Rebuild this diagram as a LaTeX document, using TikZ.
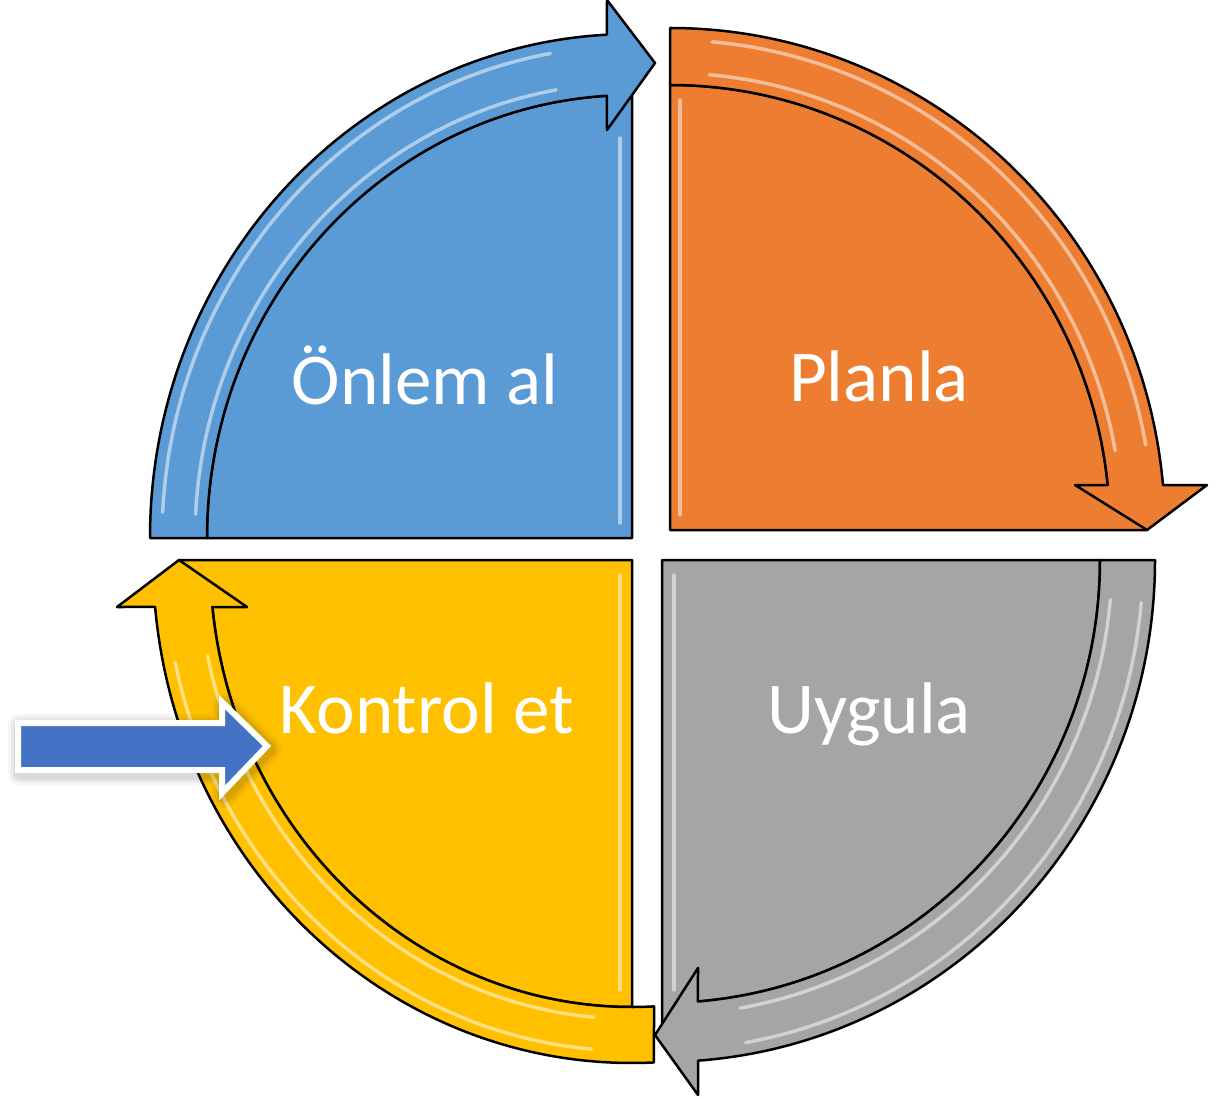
\documentclass[tikz,border=0pt]{standalone}
\usepackage{fontspec}
\setmainfont{Carlito}
\usepackage{tikz}
\definecolor{onlemblue}{HTML}{5B9BD5}
\definecolor{planorange}{HTML}{ED7D31}
\definecolor{uygulagray}{HTML}{A5A5A5}
\definecolor{kontrolyellow}{HTML}{FFC000}
\definecolor{inblue}{HTML}{4472C4}
\def\edge{0.25mm}
\tikzset{quad/.style={draw=black, line width=\edge, line join=round},
  glint/.style={white, opacity=.5, line width=0.35mm, line cap=round},
  lbl/.style={text=white, anchor=base, font=\fontsize{20.8}{25}\selectfont}}

\begin{document}
\begin{tikzpicture}[x=0.1mm, y=0.1mm]
      \useasboundingbox (0,0) rectangle (1220,1098);
      % Onlem al (top left)
      \begin{scope}[shift={(632,560)}]
        \filldraw[quad, fill=onlemblue] (0,0) -- (180:425 and 443)
          arc[start angle=180, end angle=90, x radius=425, y radius=443] -- cycle;
        \filldraw[quad, fill=onlemblue] (180:482 and 504)
          arc[start angle=180, end angle=93, x radius=482, y radius=504]
          -- (-25,538) -- (23,475) -- (-25,408) -- (93.4:425 and 443)
          arc[start angle=93.4, end angle=180, x radius=425, y radius=443] -- cycle;
        \draw[glint] (177:470 and 492) arc[start angle=177, end angle=100, x radius=470, y radius=492];
        \draw[glint] (177:437 and 455) arc[start angle=177, end angle=100, x radius=437, y radius=455];
        \draw[glint] (-12,15) -- (-12,400);
      \end{scope}
      % Planla (top right)
      \begin{scope}[shift={(670,568)}]
        \filldraw[quad, fill=planorange] (0,0) -- (0,445)
          arc[start angle=90, end angle=5.8, x radius=440, y radius=445] -- (477,0) -- cycle;
        \filldraw[quad, fill=planorange] (0,502)
          arc[start angle=90, end angle=5.14, x radius=495, y radius=502]
          -- (537,45) -- (477,0) -- (405,45) -- (5.8:440 and 445)
          arc[start angle=5.8, end angle=90, x radius=440, y radius=445] -- cycle;
        \draw[glint] (85:483 and 490) arc[start angle=85, end angle=10, x radius=483, y radius=490];
        \draw[glint] (85:452 and 457) arc[start angle=85, end angle=10, x radius=452, y radius=457];
        \draw[glint] (10,15) -- (10,430);
      \end{scope}
      % Uygula (bottom right)
      \begin{scope}[shift={(662,538)}]
        \filldraw[quad, fill=uygulagray] (0,0) -- (438,0)
          arc[start angle=0, end angle=-85.29, x radius=438, y radius=443] -- (0,-464) -- cycle;
        \filldraw[quad, fill=uygulagray] (493,0)
          arc[start angle=0, end angle=-85.81, x radius=493, y radius=502]
          -- (36,-535) -- (-7,-475) -- (36,-408) -- (-85.29:438 and 443)
          arc[start angle=-85.29, end angle=0, x radius=438, y radius=443] -- cycle;
        \draw[glint] (-5:481 and 490) arc[start angle=-5, end angle=-80, x radius=481, y radius=490];
        \draw[glint] (-5:450 and 455) arc[start angle=-5, end angle=-80, x radius=450, y radius=455];
        \draw[glint] (12,-15) -- (12,-430);
      \end{scope}
      % Kontrol et (bottom left)
      \begin{scope}[shift={(632,538)}]
        \filldraw[quad, fill=kontrolyellow] (0,0) -- (-453,0) -- (186.04:422 and 447)
          arc[start angle=186.04, end angle=270, x radius=422, y radius=447] -- cycle;
        \filldraw[quad, fill=kontrolyellow] (272.63:479 and 503)
          arc[start angle=272.63, end angle=185.36, x radius=479, y radius=503]
          -- (-515,-47) -- (-453,0) -- (-385,-47) -- (186.04:422 and 447)
          arc[start angle=186.04, end angle=272.99, x radius=422, y radius=447] -- cycle;
        \draw[glint] (265:467 and 491) arc[start angle=265, end angle=192, x radius=467, y radius=491];
        \draw[glint] (265:434 and 459) arc[start angle=265, end angle=192, x radius=434, y radius=459];
        \draw[glint] (-12,-15) -- (-12,-430);
      \end{scope}
      % Labels
      \node[lbl] (onlem) at (425,693) {Önlem al};
      \node[lbl] (planla) at (879,697) {Planla};
      \node[lbl] (uygula) at (869,365) {Uygula};
      \node[lbl] (kontrol) at (427,365) {Kontrol et};
      % Input arrow (soft glow, then white rim)
      \foreach \w/\o in {2.4mm/.04, 1.8mm/.05, 1.3mm/.07}
        \draw[black, opacity=\o, line width=\w, line join=round, shift={(2,-3)}]
          (18,328) -- (222,328) -- (222,305) -- (267,352) -- (222,396)
          -- (222,375) -- (18,375) -- cycle;
      \filldraw[draw=white, line width=0.6mm, line join=miter, fill=inblue]
        (18,328) -- (222,328) -- (222,305) -- (267,352) -- (222,396)
        -- (222,375) -- (18,375) -- cycle;
\end{tikzpicture}
\end{document}
